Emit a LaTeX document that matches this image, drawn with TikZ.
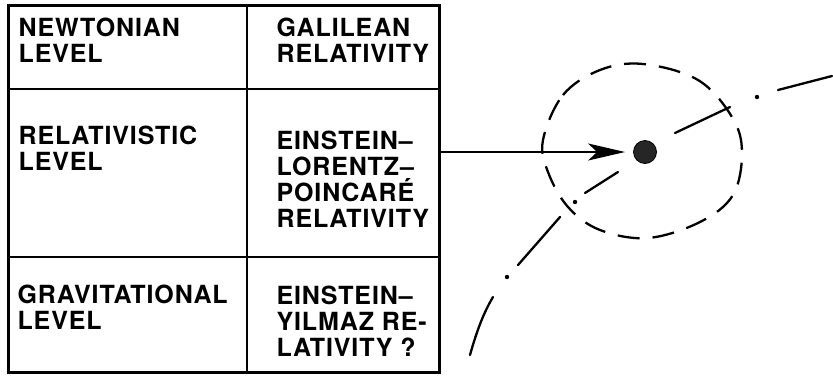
\documentclass[tikz,border=0pt]{standalone}
\usepackage{fontspec}
\setmainfont{TeX Gyre Heros}[LetterSpace=3.5]
\usetikzlibrary{arrows.meta, positioning, calc}
\tikzset{
  every picture/.style={line width=1.2pt},
  frame/.style={draw, line width=2.6pt, inner sep=0pt, anchor=north west},
  rule/.style={line width=2.4pt},
  label/.style={anchor=north west, align=left, inner sep=0pt,
    font=\bfseries\fontsize{25}{26}\selectfont},
  blob/.style={circle, fill=black!85, draw=black, line width=0.8pt, minimum size=23pt, inner sep=0pt},
  arrow/.style={-{Stealth[length=37pt, width=17pt, inset=9pt]}, line width=2pt},
  orbit/.style={line width=2.3pt, dash pattern=on 22pt off 13pt},
  track/.style={line width=2.3pt, line cap=round},
}

\begin{document}
\begin{tikzpicture}[x=1pt, y=-1pt]
  \useasboundingbox (0,0) rectangle (833,376);
  % the table of levels
  \node[frame, minimum width=431pt, minimum height=367pt] (tbl) at (7,4) {};
  \draw[rule] (247,4) -- (247,371);
  \draw[rule] (7,89) -- (438,89);
  \draw[rule] (7,257) -- (438,257);
  \node[label] (newton) at (18,17) {NEWTONIAN\\LEVEL};
  \node[label] (galilei) at (276,17) {GALILEAN\\RELATIVITY};
  \node[label] (relat) at (18,125) {RELATIVISTIC\\LEVEL};
  \node[label] (lorentz) at (276,130) {EINSTEIN--\\LORENTZ--\\POINCARÉ\\RELATIVITY};
  \node[label] (grav) at (17,284) {GRAVITATIONAL\\LEVEL};
  \node[label] (yilmaz) at (276,285) {EINSTEIN--\\YILMAZ RE-\\LATIVITY ?};
  % the body and its surroundings
  \node[blob] (dot) at (645,152) {};
  \draw[arrow, shorten >=8pt] (dot.west -| tbl.east) -- (dot.west);
  \draw[orbit] plot[smooth cycle, tension=0.6] coordinates {
    (543,140) (563,95) (600,70) (643,64) (698,80) (732,117) (742,152)
    (733,195) (700,222) (648,238) (600,230) (568,207) (548,172)};
  % dash-dot path through the body
  \draw[track] (470,355) .. controls (477,330) and (484,312) .. (493,297);
  \draw[track] (518,265) -- (560,217);
  \draw[track] (585,193) -- (618,172);
  \draw[track] (675,133) -- (730,107);
  \draw[track] (778,90) -- (832,76);
  \foreach \p in {(507,277),(575,202),(757,97)}
    \fill \p circle (2.2);
\end{tikzpicture}
\end{document}
